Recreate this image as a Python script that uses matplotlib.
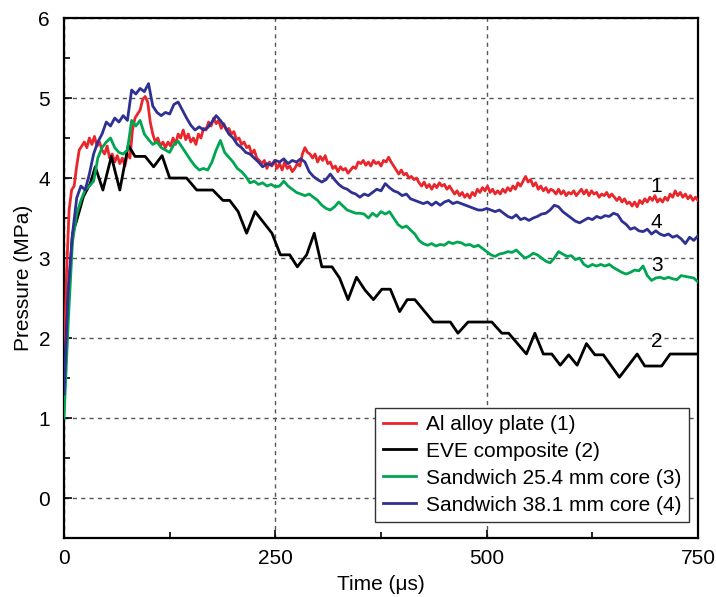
import numpy as np
import matplotlib
matplotlib.use('Agg')
from matplotlib import pyplot as plt
from matplotlib.ticker import MultipleLocator

plt.rcParams['font.family'] = ['Liberation Sans', 'DejaVu Sans']

# Al alloy plate (1), sampled every 3 us
t_al = np.arange(0, 751, 3)
p_al = [1.6, 2.8, 3.6, 3.85, 3.9, 4.15, 4.35, 4.4, 4.45, 4.38, 4.5, 4.42, 4.52, 4.4, 4.45, 4.35,
        4.3, 4.4, 4.25, 4.3, 4.2, 4.28, 4.18, 4.25, 4.15, 4.3, 4.25, 4.6, 4.75, 4.8, 4.85, 4.98,
        5.02, 4.95, 4.7, 4.55, 4.45, 4.5, 4.4, 4.45, 4.38, 4.45, 4.4, 4.5, 4.42, 4.55, 4.5, 4.6,
        4.48, 4.55, 4.45, 4.5, 4.42, 4.55, 4.5, 4.62, 4.6, 4.7, 4.65, 4.75, 4.68, 4.72, 4.62, 4.68,
        4.6, 4.62, 4.55, 4.58, 4.48, 4.5, 4.42, 4.45, 4.38, 4.4, 4.3, 4.35, 4.25, 4.22, 4.18, 4.22,
        4.12, 4.2, 4.15, 4.22, 4.12, 4.18, 4.1, 4.2, 4.12, 4.15, 4.08, 4.12, 4.18, 4.15, 4.3, 4.38,
        4.32, 4.3, 4.25, 4.3, 4.2, 4.27, 4.22, 4.28, 4.18, 4.2, 4.12, 4.15, 4.08, 4.14, 4.1, 4.12,
        4.06, 4.1, 4.14, 4.12, 4.2, 4.18, 4.22, 4.16, 4.2, 4.15, 4.22, 4.18, 4.2, 4.15, 4.22, 4.2,
        4.26, 4.2, 4.15, 4.1, 4.05, 4.1, 4.04, 4.06, 4.0, 4.02, 3.98, 4.0, 3.94, 3.9, 3.95, 3.88,
        3.92, 3.86, 3.92, 3.88, 3.94, 3.9, 3.92, 3.86, 3.9, 3.85, 3.8, 3.84, 3.78, 3.82, 3.76, 3.8,
        3.75, 3.82, 3.78, 3.86, 3.82, 3.88, 3.84, 3.9, 3.82, 3.86, 3.8, 3.84, 3.8, 3.86, 3.82, 3.88,
        3.84, 3.9, 3.86, 3.94, 3.9, 3.96, 4.02, 3.95, 3.98, 3.9, 3.94, 3.86, 3.9, 3.84, 3.88, 3.82,
        3.86, 3.84, 3.8, 3.86, 3.8, 3.84, 3.78, 3.82, 3.8, 3.84, 3.78, 3.82, 3.86, 3.8, 3.85, 3.78,
        3.84, 3.8, 3.82, 3.76, 3.8, 3.78, 3.82, 3.76, 3.8, 3.76, 3.72, 3.76, 3.7, 3.74, 3.68, 3.7,
        3.65, 3.7, 3.64, 3.72, 3.68, 3.74, 3.7, 3.76, 3.72, 3.78, 3.7, 3.74, 3.7, 3.76, 3.72, 3.8,
        3.76, 3.84, 3.78, 3.82, 3.76, 3.8, 3.74, 3.78, 3.72, 3.76, 3.72]

# EVE composite (2), corner points
t_eve = [0, 5, 10, 15, 23, 31, 37, 46, 56, 66, 76, 84, 96, 106, 116, 125, 145, 157, 176, 188,
         196, 206, 216, 226, 246, 256, 267, 276, 287, 296, 305, 317, 326, 336, 346, 356, 366, 376,
         386, 397, 406, 415, 437, 457, 466, 478, 506, 518, 526, 547, 557, 567, 577, 587, 597, 607,
         618, 628, 638, 657, 678, 687, 707, 717, 750]
p_eve = [1.4, 2.5, 3.3, 3.47, 3.77, 3.93, 4.14, 3.85, 4.27, 3.85, 4.41, 4.27, 4.27, 4.14, 4.28,
         4.0, 4.0, 3.85, 3.85, 3.72, 3.72, 3.58, 3.31, 3.58, 3.31, 3.04, 3.04, 2.89, 3.04, 3.31,
         2.89, 2.89, 2.75, 2.48, 2.76, 2.6, 2.48, 2.61, 2.61, 2.33, 2.48, 2.48, 2.2, 2.2, 2.06,
         2.2, 2.2, 2.06, 2.06, 1.8, 2.06, 1.8, 1.8, 1.66, 1.79, 1.66, 1.93, 1.79, 1.79, 1.51, 1.8,
         1.65, 1.65, 1.8, 1.8]

# Sandwich cores (3) and (4), sampled every 5 us
t_sw = np.arange(0, 751, 5)
p_sw25 = [1.0, 2.2, 3.2, 3.55, 3.72, 3.85, 3.9, 3.96, 4.25, 4.38, 4.45, 4.5, 4.38, 4.32, 4.3, 4.35,
          4.72, 4.65, 4.72, 4.55, 4.48, 4.42, 4.45, 4.38, 4.35, 4.32, 4.42, 4.46, 4.38, 4.3, 4.22,
          4.15, 4.1, 4.12, 4.1, 4.2, 4.35, 4.47, 4.32, 4.26, 4.2, 4.12, 4.08, 4.02, 3.94, 3.96, 3.92,
          3.94, 3.9, 3.92, 3.89, 3.9, 3.96, 3.9, 3.86, 3.82, 3.8, 3.78, 3.8, 3.76, 3.72, 3.66, 3.62,
          3.6, 3.64, 3.7, 3.65, 3.6, 3.58, 3.56, 3.56, 3.55, 3.5, 3.56, 3.52, 3.58, 3.55, 3.58, 3.5,
          3.42, 3.38, 3.4, 3.35, 3.3, 3.22, 3.18, 3.16, 3.18, 3.15, 3.17, 3.16, 3.2, 3.18, 3.2, 3.19,
          3.16, 3.17, 3.14, 3.16, 3.12, 3.08, 3.04, 3.02, 3.05, 3.06, 3.08, 3.07, 3.1, 3.05, 3.0,
          3.02, 3.06, 3.04, 3.0, 2.96, 2.94, 3.0, 3.08, 3.05, 3.02, 3.03, 2.98, 3.0, 2.92, 2.89,
          2.92, 2.9, 2.92, 2.9, 2.92, 2.88, 2.85, 2.82, 2.8, 2.82, 2.85, 2.84, 2.9, 2.78, 2.72, 2.75,
          2.76, 2.74, 2.76, 2.74, 2.73, 2.78, 2.77, 2.76, 2.75, 2.7]
p_sw38 = [1.3, 2.6, 3.3, 3.75, 3.9, 3.85, 4.05, 4.3, 4.45, 4.55, 4.7, 4.65, 4.75, 4.7, 4.78, 4.72,
          5.1, 5.05, 5.12, 5.08, 5.18, 4.9, 4.82, 4.78, 4.82, 4.8, 4.92, 4.95, 4.85, 4.75, 4.66,
          4.6, 4.64, 4.6, 4.63, 4.7, 4.78, 4.72, 4.65, 4.55, 4.5, 4.42, 4.38, 4.32, 4.3, 4.25, 4.2,
          4.14, 4.18, 4.16, 4.22, 4.2, 4.24, 4.18, 4.22, 4.2, 4.24, 4.2, 4.08, 4.02, 3.98, 3.95,
          3.98, 4.05, 3.98, 3.92, 3.88, 3.86, 3.82, 3.8, 3.76, 3.8, 3.78, 3.82, 3.86, 3.84, 3.93,
          3.88, 3.84, 3.82, 3.78, 3.8, 3.74, 3.72, 3.7, 3.68, 3.7, 3.66, 3.7, 3.66, 3.7, 3.72, 3.68,
          3.7, 3.68, 3.66, 3.64, 3.62, 3.6, 3.6, 3.62, 3.6, 3.58, 3.6, 3.56, 3.52, 3.5, 3.54, 3.48,
          3.5, 3.47, 3.5, 3.52, 3.55, 3.56, 3.6, 3.66, 3.64, 3.58, 3.54, 3.5, 3.46, 3.44, 3.47, 3.5,
          3.48, 3.52, 3.5, 3.53, 3.52, 3.56, 3.54, 3.46, 3.42, 3.36, 3.38, 3.34, 3.33, 3.36, 3.3,
          3.34, 3.3, 3.28, 3.3, 3.26, 3.28, 3.24, 3.18, 3.26, 3.22, 3.28]

labels = ['Al alloy plate (1)', 'EVE composite (2)', 'Sandwich 25.4 mm core (3)',
          'Sandwich 38.1 mm core (4)']
curve_tags = ['1', '2', '3', '4']
tag_pos = [(701, 3.9), (701, 1.96), (701, 2.91), (701, 3.45)]

fig = plt.figure(figsize=(7.16, 5.97), dpi=100)
ax = fig.add_axes([0.0894, 0.0988, 0.8855, 0.871])

ax.plot(t_al, p_al, color='#e8262b', lw=2.0, label=labels[0], zorder=3)
ax.plot(t_eve, p_eve, color='black', lw=2.0, label=labels[1], zorder=3)
ax.plot(t_sw, p_sw25, color='#00a651', lw=2.0, label=labels[2], zorder=3)
ax.plot(t_sw, p_sw38, color='#2e3192', lw=2.0, label=labels[3], zorder=3)

for tag, (x, y) in zip(curve_tags, tag_pos):
    ax.text(x, y, tag, fontsize=15, ha='center', va='center', zorder=4)

ax.set_xlim(0, 750)
ax.set_ylim(-0.5, 6)
ax.xaxis.set_major_locator(MultipleLocator(250))
ax.xaxis.set_minor_locator(MultipleLocator(125))
ax.yaxis.set_major_locator(MultipleLocator(1))
ax.yaxis.set_minor_locator(MultipleLocator(0.5))
ax.tick_params(which='both', direction='in', labelsize=15, width=1.2)
ax.tick_params(which='major', length=6)
ax.tick_params(which='minor', length=4)
ax.tick_params(axis='x', pad=8)
ax.tick_params(axis='y', pad=10)
ax.grid(True, which='major', color='#555555', lw=1, ls=(0, (3, 3)))
for s in ax.spines.values():
    s.set_linewidth(1.6)

ax.set_xlabel('Time (μs)', fontsize=15, labelpad=5)
ax.set_ylabel('Pressure (MPa)', fontsize=15, labelpad=4)

leg = ax.legend(loc='lower right', bbox_to_anchor=(0.986, 0.031), fontsize=15,
                fancybox=False, edgecolor='#333333', framealpha=1, handlelength=1.6,
                handletextpad=0.5, labelspacing=0.38, borderpad=0.35, borderaxespad=0)
leg.get_frame().set_linewidth(1.0)

fig.savefig('out.png', dpi=100)
